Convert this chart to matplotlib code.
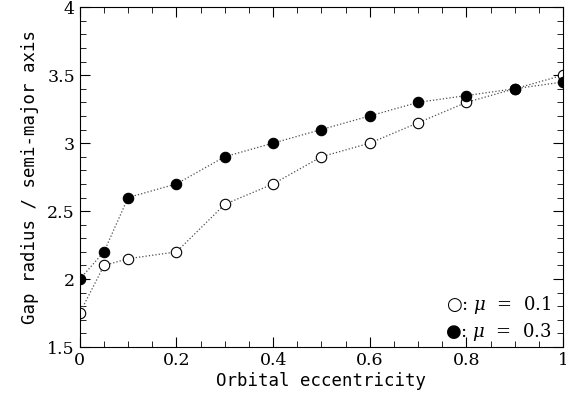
import numpy as np
import matplotlib.pyplot as plt
from matplotlib.ticker import MultipleLocator

ecc = [0, 0.05, 0.1, 0.2, 0.3, 0.4, 0.5, 0.6, 0.7, 0.8, 0.9, 1.0]
gap_mu01 = [1.75, 2.1, 2.15, 2.2, 2.55, 2.7, 2.9, 3.0, 3.15, 3.3, 3.4, 3.5]
gap_mu03 = [2.0, 2.2, 2.6, 2.7, 2.9, 3.0, 3.1, 3.2, 3.3, 3.35, 3.4, 3.45]

plt.rcParams['font.family'] = ['DejaVu Serif']
plt.rcParams['mathtext.fontset'] = 'dejavuserif'

fig = plt.figure(figsize=(5.66, 3.98), dpi=100)
ax = fig.add_axes([0.141, 0.128, 0.854, 0.854])

ax.plot(ecc, gap_mu01, ':', color='0.3', lw=0.9, marker='o', ms=7.5,
        mfc='white', mec='black', mew=0.8)
ax.plot(ecc, gap_mu03, ':', color='0.3', lw=0.9, marker='o', ms=7.5,
        mfc='black', mec='black', mew=0.8)

ax.set_xlim(0, 1)
ax.set_ylim(1.5, 4)
ax.xaxis.set_major_locator(MultipleLocator(0.2))
ax.xaxis.set_minor_locator(MultipleLocator(0.05))
ax.yaxis.set_major_locator(MultipleLocator(0.5))
ax.yaxis.set_minor_locator(MultipleLocator(0.1))
ax.tick_params(which='both', direction='in', top=True, right=True, labelsize=12.5)
ax.tick_params(which='major', length=7)
ax.tick_params(which='minor', length=4)
ax.xaxis.set_major_formatter(plt.FuncFormatter(lambda v, p: '%g' % v))
ax.yaxis.set_major_formatter(plt.FuncFormatter(lambda v, p: '%g' % v))

ax.set_xlabel('Orbital eccentricity', family='DejaVu Sans Mono', fontsize=12.5, labelpad=2)
ax.set_ylabel('Gap radius / semi-major axis', family='DejaVu Sans Mono', fontsize=12.5, labelpad=6)

ax.text(0.975, 0.11, '\u25cb: $\\mu$  =  0.1', transform=ax.transAxes, ha='right',
        fontsize=13, family=['DejaVu Serif', 'DejaVu Sans'])
ax.text(0.975, 0.03, '\u25cf: $\\mu$  =  0.3', transform=ax.transAxes, ha='right',
        fontsize=13, family=['DejaVu Serif', 'DejaVu Sans'])

fig.savefig('out.png')
